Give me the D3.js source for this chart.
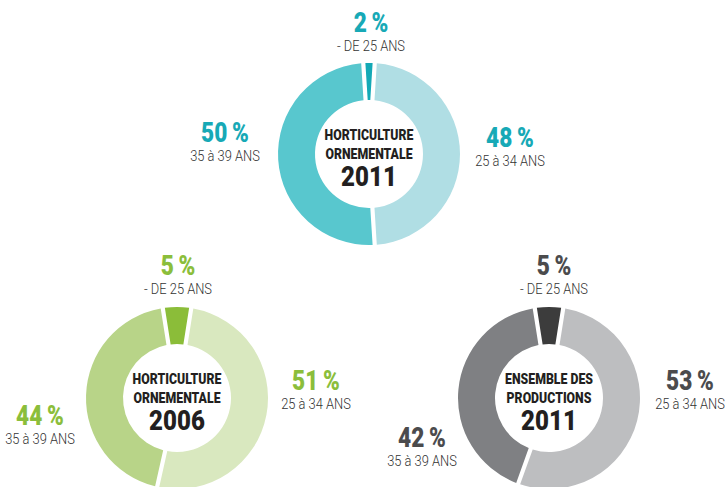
<!DOCTYPE html>
<html>
<head>
<meta charset="utf-8">
<script src="https://cdn.jsdelivr.net/npm/d3@7"></script>
<style>
  body { margin: 0; background: #fff; }
  svg { display: block; }
  text { font-family: Roboto, "Liberation Sans", Arial, sans-serif; text-anchor: middle; }
  .pct { font-weight: 900; font-size: 27px; }
  .sub { font-weight: 300; font-size: 15px; fill: #333; }
  .title { font-weight: 900; fill: #231f20; }
</style>
</head>
<body>
<div id="chart"></div>
<script>
// age groups, in drawing order (clockwise from the top)
const ageGroups = ["- DE 25 ANS", "25 à 34 ANS", "35 à 39 ANS"];

// shares in %
const horti2011 = [2, 48, 50];
const horti2006 = [5, 51, 44];
const ensemble2011 = [5, 53, 42];

const titles = [
  ["HORTICULTURE", "ORNEMENTALE", "2011"],
  ["HORTICULTURE", "ORNEMENTALE", "2006"],
  ["ENSEMBLE DES", "PRODUCTIONS", "2011"]
];

const palettes = [
  { slices: ["#14a9b6", "#b0dee4", "#58c7ce"], text: "#17a9b6" },
  { slices: ["#8bbd39", "#d9e8bf", "#b8d488"], text: "#8bbe3b" },
  { slices: ["#3c3c3c", "#bdbec0", "#7f8083"], text: "#4b4b4d" }
];

const width = 728, height = 487;
const outerR = 91, innerR = 54;

// donut centres and label anchors (offset from centre)
const layout = [
  { cx: 369, cy: 154, labels: [[2, -122], [141, -7], [-144, -12]] },
  { cx: 177, cy: 398, labels: [[1, -123], [139, -8], [-137, 27]] },
  { cx: 549, cy: 398, labels: [[5, -123], [141, -8], [-127, 49]] }
];

const datasets = [horti2011, horti2006, ensemble2011];

const svg = d3.select("#chart").append("svg")
  .attr("width", width)
  .attr("height", height);

const arc = d3.arc()
  .innerRadius(innerR)
  .outerRadius(outerR)
  .padRadius(100)
  .padAngle(0.042);

// condensed look: squeeze the text horizontally
function addText(g, x, y, str, cls, sx, size) {
  let t = g.append("text")
    .attr("class", cls)
    .attr("transform", `translate(${x},${y}) scale(${sx},1)`)
    .text(str);
  if (size) t.style("font-size", size + "px");
  return t;
}

datasets.forEach((values, i) => {
  let { cx, cy, labels } = layout[i];
  let total = d3.sum(values);
  // small slice centred on the top
  let start = -values[0] / total * Math.PI;

  let pie = d3.pie()
    .sort(null)
    .startAngle(start)
    .endAngle(start + 2 * Math.PI)
    .value(d => d);

  let g = svg.append("g")
    .attr("transform", `translate(${cx},${cy})`);

  g.selectAll("path")
    .data(pie(values))
    .enter().append("path")
    .attr("d", arc)
    .attr("fill", (d, j) => palettes[i].slices[j]);

  // centre title
  let t = titles[i];
  addText(g, 0, -14, t[0], "title", 0.82, 15);
  addText(g, 0, 5, t[1], "title", 0.82, 15);
  addText(g, 0, 32, t[2], "title", 0.86, 28);

  // labels
  values.forEach((v, j) => {
    let [dx, dy] = labels[j];
    addText(g, dx, dy, v + "\u2009%", "pct", 0.84)
      .attr("fill", palettes[i].text);
    addText(g, dx, dy + 19, ageGroups[j], "sub", 0.86);
  });
});
</script>
</body>
</html>
